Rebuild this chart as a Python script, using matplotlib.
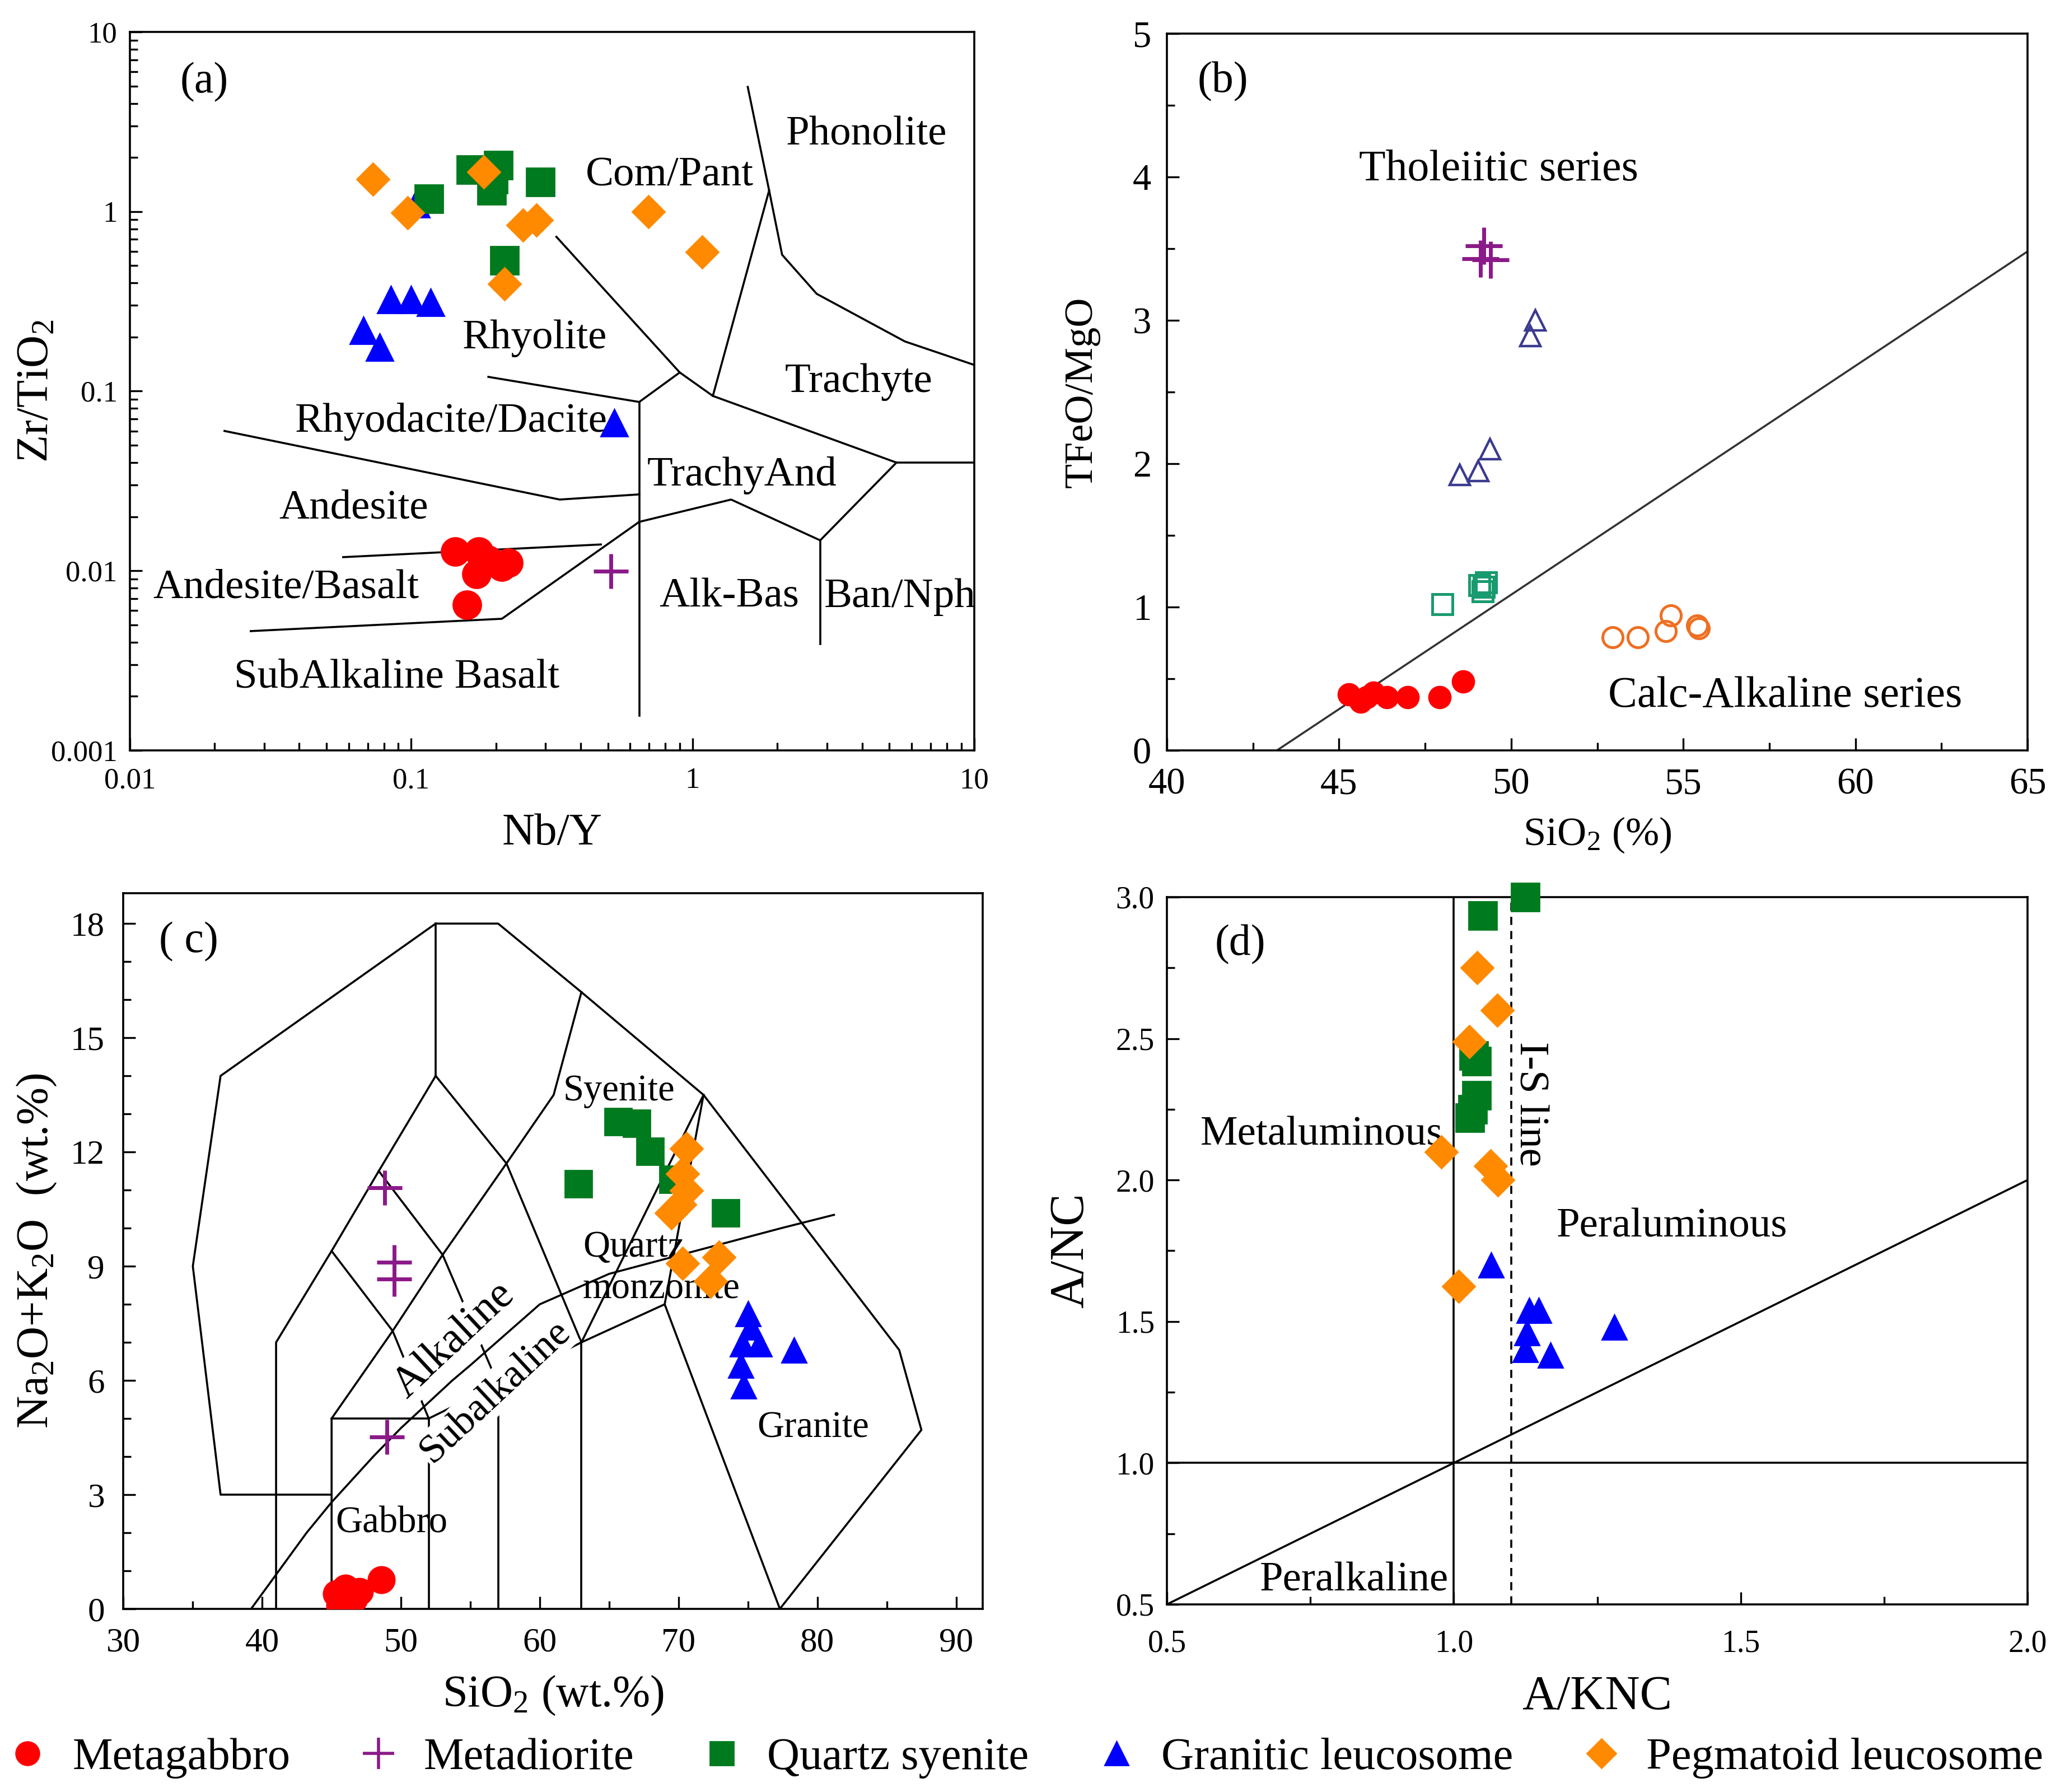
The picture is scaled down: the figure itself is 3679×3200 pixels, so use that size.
import matplotlib
matplotlib.use("Agg")
import matplotlib.pyplot as plt
from matplotlib.ticker import MultipleLocator, LogLocator, FuncFormatter, NullFormatter
from matplotlib.lines import Line2D

plt.rcParams['font.family'] = ['Liberation Serif', 'DejaVu Serif']
plt.rcParams['mathtext.default'] = 'regular'

RED = '#ff0000'
PURPLE = '#8b1a89'
GREEN = '#007a1e'
BLUE = '#0000ff'
ORANGE = '#ff8a00'

# ---------------- (a) Nb/Y vs Zr/TiO2 ----------------
a_gab_x = [0.1435, 0.1734, 0.1706, 0.21, 0.2215, 0.188, 0.158]
a_gab_y = [0.0128, 0.0128, 0.0096, 0.01054, 0.01107, 0.0115, 0.00645]
a_dio_x = [0.512]
a_dio_y = [0.00995]
a_syn_x = [0.1626, 0.204, 0.193, 0.1156, 0.287, 0.215, 0.196]
a_syn_y = [1.71, 1.81, 1.31, 1.18, 1.46, 0.534, 1.51]
a_gra_x = [0.104, 0.0845, 0.1, 0.117, 0.0675, 0.0771, 0.526]
a_gra_y = [1.10, 0.323, 0.323, 0.312, 0.218, 0.176, 0.0667]
a_peg_x = [0.0731, 0.0969, 0.181, 0.249, 0.278, 0.215, 0.697, 1.08]
a_peg_y = [1.51, 0.984, 1.66, 0.84, 0.896, 0.395, 1.0, 0.595]

# field boundaries (Winchester & Floyd)
a_lines = [
    ([1.57, 1.87, 2.08, 2.76, 5.68, 10], [4.94, 1.31, 0.574, 0.348, 0.189, 0.14]),
    ([0.328, 0.90, 1.18, 5.3, 10], [0.723, 0.127, 0.094, 0.040, 0.040]),
    ([1.18, 1.87], [0.094, 1.31]),
    ([0.188, 0.646, 0.90], [0.12, 0.087, 0.127]),
    ([0.646, 0.646], [0.087, 0.00156]),
    ([0.0217, 0.337, 0.646], [0.060, 0.0249, 0.0266]),
    ([0.646, 1.37, 2.84, 5.3], [0.0187, 0.0249, 0.01476, 0.040]),
    ([2.84, 2.84], [0.01476, 0.0039]),
    ([0.0573, 0.472], [0.0119, 0.0140]),
    ([0.0269, 0.21, 0.646], [0.00461, 0.0054, 0.0187]),
]
a_labels = [("Phonolite", 4.16, 2.67), ("Com/Pant", 0.83, 1.58), ("Rhyolite", 0.275, 0.197),
            ("Trachyte", 3.89, 0.112), ("Rhyodacite/Dacite", 0.139, 0.0678),
            ("TrachyAnd", 1.50, 0.0338), ("Andesite", 0.0624, 0.0222),
            ("Andesite/Basalt", 0.0359, 0.0080), ("Alk-Bas", 1.35, 0.00713),
            ("Ban/Nph", 5.45, 0.00713), ("SubAlkaline Basalt", 0.089, 0.00254)]

# ---------------- (b) SiO2 vs TFeO/MgO ----------------
b_gab_x = [45.28, 45.62, 45.81, 46.0, 46.39, 47.0, 47.92, 48.6]
b_gab_y = [0.39, 0.34, 0.37, 0.40, 0.37, 0.37, 0.37, 0.48]
b_dio_x = [49.1, 49.4, 49.2]
b_dio_y = [3.43, 3.42, 3.52]
b_syn_x = [48.0, 49.08, 49.27, 49.17, 49.2]
b_syn_y = [1.02, 1.15, 1.17, 1.11, 1.14]
b_gra_x = [50.71, 50.55, 49.38, 49.04, 48.5]
b_gra_y = [3.0, 2.89, 2.10, 1.95, 1.92]
b_peg_x = [52.95, 53.68, 54.49, 54.64, 55.41, 55.45]
b_peg_y = [0.79, 0.79, 0.83, 0.94, 0.87, 0.85]
b_line_x = [43.2, 65]
b_line_y = [0, 3.48]

# ---------------- (c) TAS ----------------
c_gab_x = [45.37, 45.99, 47.02, 48.57, 45.58, 46.6]
c_gab_y = [0.40, 0.55, 0.46, 0.76, 0.09, 0.27]
c_dio_x = [48.83, 49.5, 49.5, 49.0]
c_dio_y = [11.06, 9.11, 8.67, 4.52]
c_syn_x = [65.66, 67.0, 67.95, 62.8, 73.4, 69.6]
c_syn_y = [12.8, 12.75, 12.02, 11.17, 10.4, 11.28]
c_gra_x = [75.0, 75.2, 74.6, 75.8, 74.5, 74.7, 78.3]
c_gra_y = [7.75, 7.4, 6.95, 6.95, 6.4, 5.85, 6.8]
c_peg_x = [70.56, 70.3, 70.56, 70.1, 69.5, 70.3, 72.9, 72.3]
c_peg_y = [12.09, 11.43, 10.99, 10.62, 10.4, 9.08, 9.23, 8.6]

c_lines = [
    ([41, 41, 45, 48.4, 52.5], [0, 7, 9.4, 11.5, 14]),
    ([45, 45, 49.4, 53, 57.6, 61, 63], [0, 5, 7.3, 9.3, 11.7, 13.5, 16.2]),
    ([52, 52], [0, 5]),
    ([45, 52, 57, 63, 69], [5, 5, 5.9, 7, 8]),
    ([57, 57], [0, 5.9]),
    ([63, 63], [0, 7]),
    ([52, 49.4, 45], [5, 7.3, 9.4]),
    ([57, 53, 48.4], [5.9, 9.3, 11.5]),
    ([63, 57.6, 52.5], [7, 11.7, 14]),
    ([52.5, 52.5], [14, 18]),
    ([45, 37, 35, 37, 52.5, 57, 63, 71.8, 85.9, 87.5, 77.3],
     [3, 3, 9, 14, 18, 18, 16.2, 13.5, 6.8, 4.7, 0]),
    ([71.8, 69, 77.3], [13.5, 8, 0]),
    ([71.8, 63], [13.5, 7]),
]
c_ib_x = [39.2, 40, 43.2, 45, 48, 50, 53.7, 55, 60, 65, 77.4, 81.2]
c_ib_y = [0, 0.4, 2, 2.8, 4, 4.75, 6, 6.4, 8, 8.8, 10, 10.35]

# ---------------- (d) A/KNC vs A/NC ----------------
d_syn_x = [1.125, 1.05, 1.035, 1.04, 1.04, 1.033, 1.028]
d_syn_y = [3.0, 2.935, 2.44, 2.42, 2.30, 2.25, 2.22]
d_peg_x = [1.041, 1.076, 1.027, 0.978, 1.064, 1.077, 1.008]
d_peg_y = [2.75, 2.60, 2.49, 2.10, 2.05, 2.0, 1.625]
d_gra_x = [1.065, 1.131, 1.148, 1.127, 1.125, 1.168, 1.28]
d_gra_y = [1.70, 1.54, 1.54, 1.46, 1.40, 1.38, 1.48]

legend_names = ["Metagabbro", "Metadiorite", "Quartz syenite", "Granitic leucosome", "Pegmatoid leucosome"]


def style_axes(ax, fs, xpad, ypad):
    for s in ax.spines.values():
        s.set_linewidth(1.3)
    ax.tick_params(which='both', direction='in', top=False, right=False, labelsize=fs, width=1.2)
    ax.tick_params(which='major', length=8)
    ax.tick_params(which='minor', length=5)
    ax.tick_params(axis='x', which='both', pad=xpad)
    ax.tick_params(axis='y', which='both', pad=ypad)


def place_labels(ax, xl, yl, fs, xoff, yoff):
    ax.set_xlabel(xl, fontsize=fs, va='center')
    ax.set_ylabel(yl, fontsize=fs, va='center')
    ax.xaxis.set_label_coords(0.5, xoff)
    ax.yaxis.set_label_coords(yoff, 0.5)


fig = plt.figure(figsize=(18.4, 16), dpi=200)

# ---- (a)
ax = fig.add_axes([0.063, 0.5813, 0.4097, 0.4009])
ax.set_xscale('log')
ax.set_yscale('log')
ax.set_xlim(0.01, 10)
ax.set_ylim(0.001, 10)
for xs, ys in a_lines:
    ax.plot(xs, ys, color='black', lw=1.3, zorder=1)
for name, x, y in a_labels:
    ax.text(x, y, name, fontsize=27, ha='center', va='center', zorder=2)
ax.plot(a_gab_x, a_gab_y, 'o', color=RED, ms=18, ls='none', zorder=3)
ax.plot(a_dio_x, a_dio_y, '+', color=PURPLE, ms=22, mew=2.5, ls='none', zorder=3)
ax.plot(a_gra_x, a_gra_y, '^', color=BLUE, ms=17, ls='none', zorder=3)
ax.plot(a_syn_x, a_syn_y, 's', color=GREEN, ms=18, ls='none', zorder=3)
ax.plot(a_peg_x, a_peg_y, 'D', color=ORANGE, ms=15, ls='none', zorder=4)
ax.xaxis.set_major_locator(LogLocator(base=10))
ax.yaxis.set_major_locator(LogLocator(base=10))
ax.xaxis.set_minor_locator(LogLocator(base=10, subs=range(2, 10)))
ax.yaxis.set_minor_locator(LogLocator(base=10, subs=range(2, 10)))
ax.xaxis.set_minor_formatter(NullFormatter())
ax.yaxis.set_minor_formatter(NullFormatter())
fmt = FuncFormatter(lambda v, p: '%g' % v)
ax.xaxis.set_major_formatter(fmt)
ax.yaxis.set_major_formatter(fmt)
style_axes(ax, 19, 11, 8)
place_labels(ax, 'Nb/Y', 'Zr/TiO$_2$', 29, -0.116, -0.110)
ax.text(0.088, 0.93, '(a)', transform=ax.transAxes, fontsize=28, ha='center', va='center')

# ---- (b)
ax = fig.add_axes([0.5663, 0.5813, 0.4177, 0.4000])
ax.set_xlim(40, 65)
ax.set_ylim(0, 5)
ax.plot(b_line_x, b_line_y, color='#333333', lw=1.3, zorder=1)
ax.plot(b_gab_x, b_gab_y, 'o', color=RED, ms=14, ls='none', zorder=3)
ax.plot(b_dio_x, b_dio_y, '+', color=PURPLE, ms=24, mew=2.5, ls='none', zorder=3)
ax.plot(b_syn_x, b_syn_y, 's', mfc='none', mec='#1a9a70', ms=13, mew=1.8, ls='none', zorder=3)
ax.plot(b_gra_x, b_gra_y, '^', mfc='none', mec='#3b3b8f', ms=13, mew=1.6, ls='none', zorder=3)
ax.plot(b_peg_x, b_peg_y, 'o', mfc='none', mec='#ee6f22', ms=13, mew=1.8, ls='none', zorder=3)
ax.xaxis.set_major_locator(MultipleLocator(5))
ax.xaxis.set_minor_locator(MultipleLocator(2.5))
ax.yaxis.set_major_locator(MultipleLocator(1))
ax.yaxis.set_minor_locator(MultipleLocator(0.5))
style_axes(ax, 24, 11, 10)
place_labels(ax, 'SiO$_2$ (%)', 'TFeO/MgO', 26, -0.118, -0.099)
ax.text(49.64, 4.05, 'Tholeiitic series', fontsize=28, ha='center', va='center')
ax.text(57.95, 0.377, 'Calc-Alkaline series', fontsize=28, ha='center', va='center')
ax.text(0.065, 0.933, '(b)', transform=ax.transAxes, fontsize=28, ha='center', va='center')

# ---- (c)
ax = fig.add_axes([0.0599, 0.1022, 0.4169, 0.3994])
ax.set_xlim(30, 91.9)
ax.set_ylim(0, 18.8)
for xs, ys in c_lines:
    ax.plot(xs, ys, color='black', lw=1.3, zorder=1)
ax.plot(c_ib_x, c_ib_y, color='black', lw=1.3, zorder=3)
wb = dict(facecolor='white', edgecolor='none', pad=1.0)
ax.text(53.8, 7.05, 'Alkaline', fontsize=28, rotation=43, ha='center', va='center',
        rotation_mode='anchor', bbox=wb, zorder=2)
ax.text(56.8, 5.7, 'Subalkaline', fontsize=26, rotation=43, ha='center', va='center',
        rotation_mode='anchor', bbox=wb, zorder=2)
ax.text(65.7, 13.6, 'Syenite', fontsize=24, ha='center', va='center', zorder=2)
ax.text(63.1, 9.5, 'Quartz', fontsize=24, ha='left', va='center', zorder=2)
ax.text(63.1, 8.4, 'monzonite', fontsize=24, ha='left', va='center', zorder=2)
ax.text(49.3, 2.25, 'Gabbro', fontsize=24, ha='center', va='center', zorder=2)
ax.text(79.7, 4.75, 'Granite', fontsize=24, ha='center', va='center', zorder=2)
ax.plot(c_gab_x, c_gab_y, 'o', color=RED, ms=17, ls='none', zorder=4)
ax.plot(c_dio_x, c_dio_y, '+', color=PURPLE, ms=22, mew=2.5, ls='none', zorder=4)
ax.plot(c_syn_x, c_syn_y, 's', color=GREEN, ms=17, ls='none', zorder=4)
ax.plot(c_gra_x, c_gra_y, '^', color=BLUE, ms=16, ls='none', zorder=4)
ax.plot(c_peg_x, c_peg_y, 'D', color=ORANGE, ms=15, ls='none', zorder=5)
ax.xaxis.set_major_locator(MultipleLocator(10))
ax.xaxis.set_minor_locator(MultipleLocator(5))
ax.yaxis.set_major_locator(MultipleLocator(3))
ax.yaxis.set_minor_locator(MultipleLocator(1))
style_axes(ax, 22, 12, 12)
place_labels(ax, 'SiO$_2$ (wt.%)', 'Na$_2$O+K$_2$O  (wt.%)', 29, -0.121, -0.101)
ax.text(0.076, 0.932, '( c)', transform=ax.transAxes, fontsize=28, ha='center', va='center')

# ---- (d)
ax = fig.add_axes([0.5663, 0.1047, 0.4177, 0.3947])
ax.set_xlim(0.5, 2.0)
ax.set_ylim(0.5, 3.0)
ax.axvline(1.0, color='black', lw=1.3, zorder=1)
ax.axvline(1.1, color='black', lw=1.3, ls=(0, (4, 3)), zorder=1)
ax.axhline(1.0, color='black', lw=1.3, zorder=1)
ax.plot([0.5, 2.0], [0.5, 2.0], color='black', lw=1.3, zorder=1)
ax.plot(d_syn_x, d_syn_y, 's', color=GREEN, ms=18, ls='none', zorder=3, clip_on=False)
ax.plot(d_gra_x, d_gra_y, '^', color=BLUE, ms=16, ls='none', zorder=3)
ax.plot(d_peg_x, d_peg_y, 'D', color=ORANGE, ms=15, ls='none', zorder=4)
ax.text(0.77, 2.16, 'Metaluminous', fontsize=27, ha='center', va='center')
ax.text(1.38, 1.834, 'Peraluminous', fontsize=27, ha='center', va='center')
ax.text(0.826, 0.584, 'Peralkaline', fontsize=27, ha='center', va='center')
ax.text(1.133, 2.268, 'I-S line', fontsize=27, rotation=-90, ha='center', va='center')
ax.xaxis.set_major_locator(MultipleLocator(0.5))
ax.xaxis.set_minor_locator(MultipleLocator(0.25))
ax.yaxis.set_major_locator(MultipleLocator(0.5))
ax.yaxis.set_minor_locator(MultipleLocator(0.25))
ax.xaxis.set_major_formatter(FuncFormatter(lambda v, p: '%.1f' % v))
ax.yaxis.set_major_formatter(FuncFormatter(lambda v, p: '%.1f' % v))
style_axes(ax, 20, 16, 8)
place_labels(ax, 'A/KNC', 'A/NC', 31, -0.132, -0.111)
ax.text(0.085, 0.933, '(d)', transform=ax.transAxes, fontsize=28, ha='center', va='center')

# ---- legend
handles = [
    Line2D([], [], marker='o', color=RED, ls='none', ms=15),
    Line2D([], [], marker='+', color=PURPLE, ls='none', ms=20, mew=2),
    Line2D([], [], marker='s', color=GREEN, ls='none', ms=15),
    Line2D([], [], marker='^', color=BLUE, ls='none', ms=15),
    Line2D([], [], marker='D', color=ORANGE, ls='none', ms=13),
]
fig.legend(handles, legend_names, loc='center', bbox_to_anchor=(0.497, 0.019), ncol=5,
           frameon=False, fontsize=29, handletextpad=0.5, columnspacing=1.45, handlelength=1.0,
           borderpad=0.1, borderaxespad=0.1)

fig.savefig('out.png', dpi=200)
